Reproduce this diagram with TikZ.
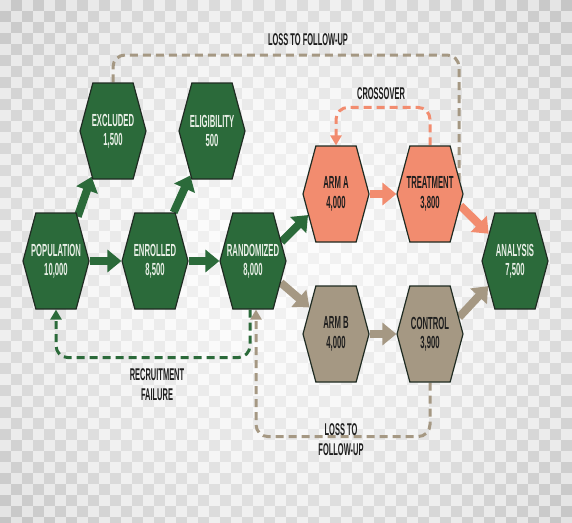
\documentclass[tikz,border=0pt]{standalone}
\usepackage{fontspec}
\usetikzlibrary{arrows.meta,shapes.symbols}

\newfontfamily\hexfont[FakeStretch=0.44]{Liberation Sans Bold}

\definecolor{trialgreen}{HTML}{2B6A3A}
\definecolor{trialsalmon}{HTML}{F28C6F}
\definecolor{trialtaupe}{HTML}{A59883}
\definecolor{hexline}{HTML}{1F2B22}
\definecolor{paletext}{HTML}{E8EFE6}
\definecolor{inktext}{HTML}{1E1E1E}

\pgfdeclarelayer{board}
\pgfdeclarelayer{links}
\pgfsetlayers{board,links,main}

\tikzset{
  hexbox/.style={signal, signal to=east and west, signal pointer angle=150,
    minimum width=66pt, minimum height=96pt, inner xsep=-14pt, inner ysep=0pt, align=center,
    draw=hexline, line width=1.2pt, font=\hexfont\fontsize{17.5}{19.5}\selectfont},
  greenhex/.style={hexbox, fill=trialgreen, text=paletext},
  salmonhex/.style={hexbox, fill=trialsalmon, text=inktext},
  taupehex/.style={hexbox, fill=trialtaupe, text=inktext},
  flow/.style={line width=8pt, -{Triangle[width=22pt,length=14pt]}},
  dashlink/.style={line width=3pt, dash pattern=on 8pt off 5pt, rounded corners=12pt},
  dashtip/.style={-{Triangle[width=11pt,length=10pt]}},
  note/.style={text=inktext, align=center, font=\hexfont\fontsize{17}{20}\selectfont}
}

\begin{document}
\begin{tikzpicture}[x=1pt,y=-1pt]
\useasboundingbox (0,0) rectangle (572,522);

% checkered backdrop
\begin{pgfonlayer}{board}
\fill[white] (0,0) rectangle (572,522);
\foreach \i in {0,...,52}
  \foreach \j in {0,...,47} {
    \pgfmathsetmacro\dd{((\i*11+5.5-286)/286)^2+((\j*11+5.5-261)/261)^2}
    \pgfmathsetmacro\lev{ifthenelse(isodd(\i+\j),5+9*\dd,1+5*\dd)}
    \fill[black!\lev] (\i*11,\j*11) rectangle ++(11,11);
  }
\end{pgfonlayer}

% hexagons
\node[greenhex] (pop) at (56,261) {POPULATION\\10,000};
\node[greenhex] (enr) at (155,261) {ENROLLED\\8,500};
\node[greenhex] (rand) at (253,261) {RANDOMIZED\\8,000};
\node[greenhex] (excl) at (113,131) {EXCLUDED\\1,500};
\node[greenhex] (elig) at (212,131) {ELIGIBILITY\\500};
\node[salmonhex] (arma) at (336,194) {ARM A\\4,000};
\node[salmonhex] (treat) at (430,194) {TREATMENT\\3,800};
\node[taupehex] (armb) at (336,334) {ARM B\\4,000};
\node[taupehex] (ctrl) at (430,334) {CONTROL\\3,900};
\node[greenhex] (anal) at (515,261) {ANALYSIS\\7,500};

\coordinate (losstop) at (459,55);

\begin{pgfonlayer}{links}
% main flow
\draw[flow,trialgreen] (pop.east) -- (enr.west);
\draw[flow,trialgreen] (enr.east) -- (rand.west);
\draw[flow,trialgreen] (pop.64) -- (excl.245);
\draw[flow,trialgreen] (enr.69) -- (elig.244);
\draw[flow,trialgreen] (rand.34) -- (arma.217);
\draw[flow,trialtaupe] (rand.322) -- (armb.135);
\draw[flow,trialsalmon] (arma.east) -- (treat.west);
\draw[flow,trialtaupe] (armb.east) -- (ctrl.west);
\draw[flow,trialsalmon] (treat.339) -- (anal.134);
\draw[flow,trialtaupe] (ctrl.30) -- (anal.223);

% dashed returns
\draw[dashlink,trialtaupe] (excl.north) |- (losstop) -- (losstop |- treat.east);
\draw[dashlink,dashtip,trialsalmon] (treat.north) -- ++(0,-38) -| (arma.north);
\draw[dashlink,dashtip,trialgreen] ([xshift=-3pt]rand.south) -- ++(0,48) -| (pop.south);
\draw[dashlink,dashtip,trialtaupe] (ctrl.south) -- ++(0,54) -| ([xshift=3pt]rand.south);
\end{pgfonlayer}

% labels
\node[note] (losstext) at (308,40) {LOSS TO FOLLOW-UP};
\node[note] (crosstext) at (381,94) {CROSSOVER};
\node[note] (recrtext) at (157,385) {RECRUITMENT\\FAILURE};
\node[note] (lossbtext) at (341,440) {LOSS TO\\FOLLOW-UP};
\end{tikzpicture}
\end{document}
